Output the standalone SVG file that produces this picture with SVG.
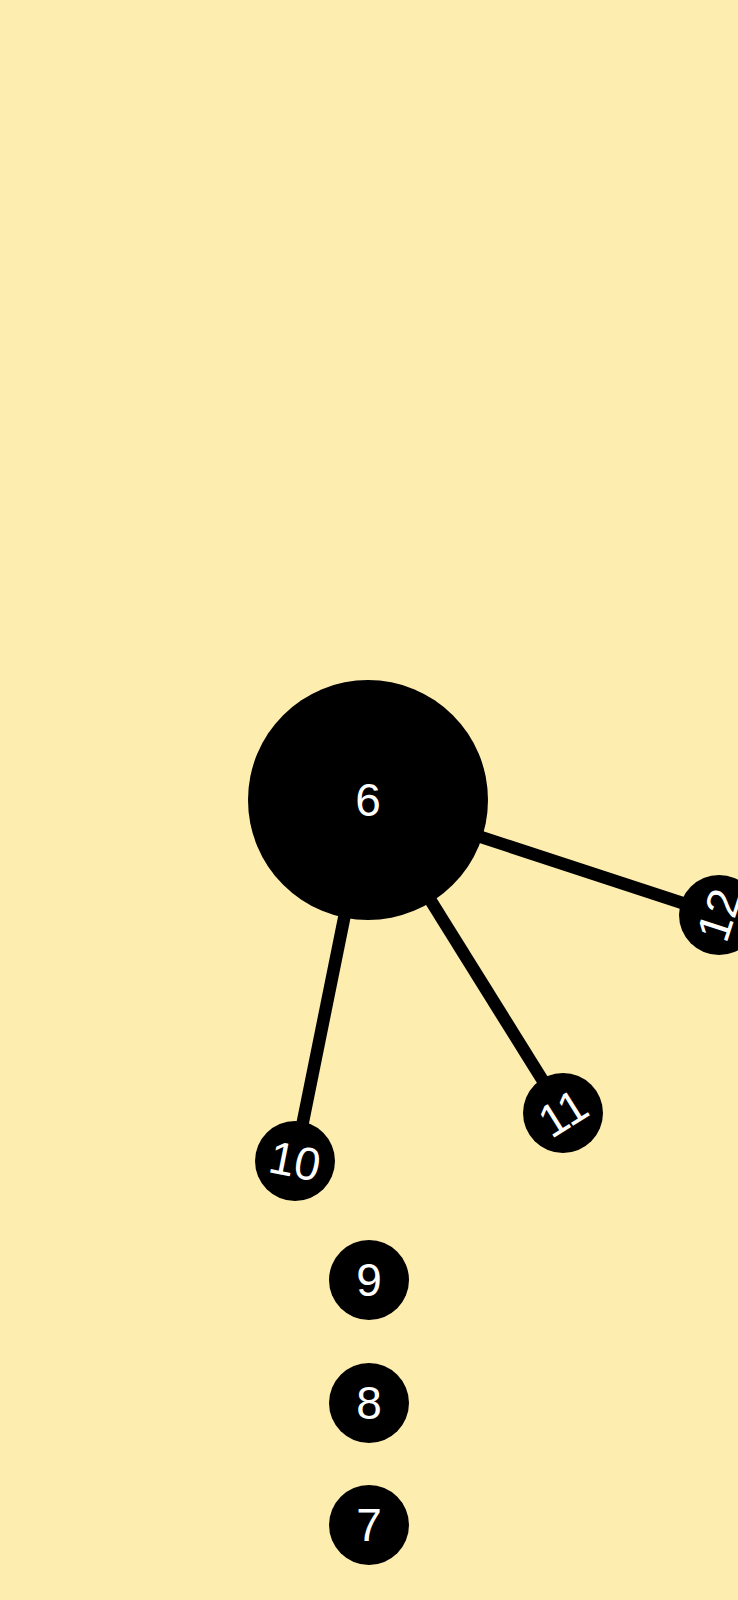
<svg xmlns="http://www.w3.org/2000/svg" width="738" height="1600" viewBox="0 0 738 1600">
<style>
.n{fill:#000}
.t{fill:#fff;font-family:"Liberation Sans",Arial,sans-serif;font-size:46px;text-anchor:middle;dominant-baseline:central}
.e{stroke:#000;stroke-width:12.5;fill:none}
</style>
<rect width="738" height="1600" fill="#fdeeb0"/>
<g id="edges">
<line class="e" x1="368" y1="800" x2="295" y2="1161"/>
<line class="e" x1="368" y1="800" x2="563" y2="1113"/>
<line class="e" x1="368" y1="800" x2="719" y2="915"/>
</g>
<g id="node6"><circle class="n" cx="368" cy="800" r="120"/><text class="t" x="368" y="800">6</text></g>
<g id="node10"><circle class="n" cx="295" cy="1161" r="40"/><text class="t" x="295" y="1161" transform="rotate(11.4 295 1161)">10</text></g>
<g id="node11"><circle class="n" cx="563" cy="1113" r="40"/><text class="t" x="563" y="1113" transform="rotate(-32 563 1113)">11</text></g>
<g id="node12"><circle class="n" cx="719" cy="915" r="40"/><text class="t" x="719" y="915" transform="rotate(-72 719 915)">12</text></g>
<g id="node9"><circle class="n" cx="369" cy="1280" r="40"/><text class="t" x="369" y="1280">9</text></g>
<g id="node8"><circle class="n" cx="369" cy="1403" r="40"/><text class="t" x="369" y="1403">8</text></g>
<g id="node7"><circle class="n" cx="369" cy="1525" r="40"/><text class="t" x="369" y="1525">7</text></g>
</svg>
